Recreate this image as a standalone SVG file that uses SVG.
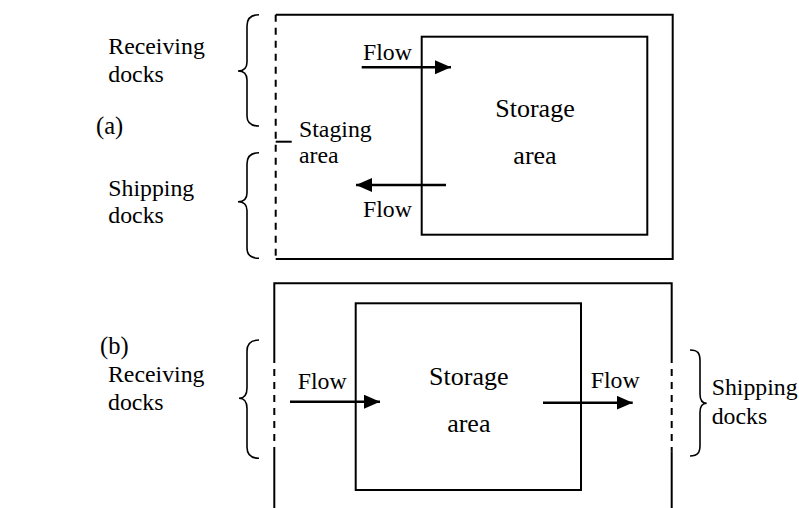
<svg xmlns="http://www.w3.org/2000/svg" width="799" height="508" viewBox="0 0 799 508">
  <style>
    .wall { fill: none; stroke: #000; stroke-width: 2; }
    .dock { fill: none; stroke: #000; stroke-width: 2; stroke-dasharray: 7 6; }
    .brace { fill: none; stroke: #000; stroke-width: 1.6; }
    .flow { stroke: #000; stroke-width: 2.5; marker-end: url(#head); }
    text { font-size: 23.8px; fill: #000; }
    .big { font-size: 26px; text-anchor: middle; }
    .tag { font-size: 24.5px; }
  </style>
  <defs>
    <marker id="head" markerUnits="userSpaceOnUse" markerWidth="17" markerHeight="15" refX="16" refY="7" orient="auto">
      <path d="M0,0 L16,7 L0,14 z" fill="#000"/>
    </marker>
  </defs>

  <g font-family="'Liberation Serif', 'DejaVu Serif', 'Times New Roman', serif">
  <!-- (a) L-shaped flow: docks share one wall -->
  <g id="label-a"><text class="tag" x="96" y="134">(a)</text></g>

  <g id="building-a">
    <path class="wall" d="M275.7,14.7 H672.7 V259 H275.7"/>
    <line class="dock" x1="275.7" y1="14.7" x2="275.7" y2="259"/>
    <line class="wall" x1="275.7" y1="141.7" x2="291.7" y2="141.7"/>
  </g>

  <g id="storage-a">
    <rect class="wall" x="421.7" y="36.7" width="225.6" height="198"/>
    <text class="big" x="535" y="117.3">Storage</text>
    <text class="big" x="535" y="164">area</text>
  </g>

  <g id="receiving-a">
    <path class="brace" d="M259,14.7 C251,14.7 247,18 247,26 L247,62 C247,68 244,71 238,71 C244,71 247,74 247,80 L247,116 C247,123 251,126 259,126"/>
    <text x="108.3" y="54.3">Receiving</text>
    <text x="108.3" y="82.3">docks</text>
  </g>

  <g id="shipping-a">
    <path class="brace" d="M259,152.7 C251,152.7 247,156 247,164 L247,193 C247,199 244,201.7 238,201.7 C244,201.7 247,204.5 247,210.5 L247,248 C247,255 251,258.3 259,258.3"/>
    <text x="108.3" y="196">Shipping</text>
    <text x="108.3" y="222.7">docks</text>
  </g>

  <g id="staging-a">
    <text x="299" y="136.7">Staging</text>
    <text x="299" y="163.3">area</text>
  </g>

  <!-- (b) straight-through flow: docks on opposite walls -->
  <g id="label-b"><text class="tag" x="100" y="354">(b)</text></g>

  <g id="building-b">
    <path class="wall" d="M274.3,356 V283.3 H671.7 V356"/>
    <line class="dock" x1="274.3" y1="356" x2="274.3" y2="453"/>
    <line class="wall" x1="274.3" y1="453" x2="274.3" y2="508"/>
    <line class="dock" x1="671.7" y1="356" x2="671.7" y2="451.7"/>
    <line class="wall" x1="671.7" y1="451.7" x2="671.7" y2="508"/>
  </g>

  <g id="storage-b">
    <rect class="wall" x="355.7" y="303.3" width="225.3" height="186.7"/>
    <text class="big" x="468.8" y="385">Storage</text>
    <text class="big" x="468.8" y="431.7">area</text>
  </g>

  <g id="receiving-b">
    <path class="brace" d="M259,340 C251,340 247,343.3 247,351 L247,388 C247,394.5 244,398.3 239,398.3 C244,398.3 247,402 247,408.5 L247,447 C247,455 251,458.3 259,458.3"/>
    <text x="108" y="381.7">Receiving</text>
    <text x="108" y="410">docks</text>
  </g>

  <g id="shipping-b">
    <path class="brace" d="M690,350 C698,350 700,353.3 700,361 L700,394 C700,399.5 702,403.3 706.7,403.3 C702,403.3 700,407 700,412.5 L700,445 C700,452.5 698,456 690,456"/>
    <text x="711.7" y="395">Shipping</text>
    <text x="711.7" y="424">docks</text>
  </g>

  <g id="connectors">
    <line class="flow" x1="361.7" y1="67.3" x2="451" y2="67.3"/>
    <line class="flow" x1="446" y1="185" x2="356" y2="185"/>
    <line class="flow" x1="290" y1="401.7" x2="380" y2="401.7"/>
    <line class="flow" x1="543" y1="402.7" x2="632.7" y2="402.7"/>
  </g>
  <g id="flow-labels">
    <text x="363" y="60">Flow</text>
    <text x="363" y="216.7">Flow</text>
    <text x="297.7" y="389">Flow</text>
    <text x="590.7" y="388.3">Flow</text>
  </g>
  </g>
</svg>
